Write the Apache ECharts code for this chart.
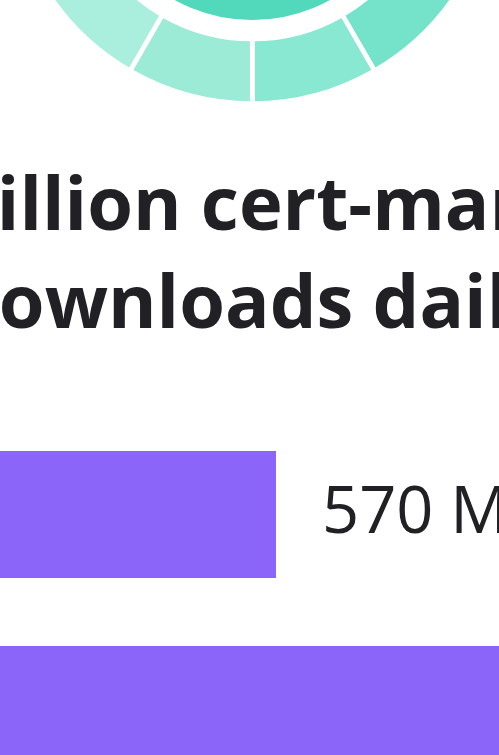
<!DOCTYPE html>
<html>
<head>
<meta charset="utf-8">
<script src="https://cdn.jsdelivr.net/npm/echarts@6/dist/echarts.min.js"></script>
<style>
html,body{margin:0;padding:0;background:#fff;}
#chart{width:499px;height:755px;}
</style>
</head>
<body>
<div id="chart"></div>
<script>
// Ring segments (12 equal parts, clockwise from top)
const ringSegments = ['s1','s2','s3','s4','s5','s6','s7','s8','s9','s10','s11','s12'];
const ringValues = [1,1,1,1,1,1,1,1,1,1,1,1];
const ringColors = ['#3fd3b1','#49d6b6','#5bdcbf','#66e0c4','#74e3c9','#88e8d2','#9beBd7','#aaeedd','#b8f1e3','#c4f4e8','#cff6ec','#d9f8f1'];
const coreValue = [1];

// Title lines
const titleLines = ['billion cert-manager', 'downloads daily'];

// Bars
const barCategories = ['Previous', 'Current'];
const barValues = [570, 1000];
const barUnit = 'Million';

const chart = echarts.init(document.getElementById('chart'), null, {renderer: 'canvas'});

const titleFont = {fontFamily: 'Open Sans', fontWeight: 700, fontSize: 74, fill: '#212024',
  textAlign: 'left', verticalAlign: 'bottom'};

const option = {
  animation: false,
  backgroundColor: '#ffffff',
  graphic: [
    {type: 'text', x: -50, y: 246, style: Object.assign({text: titleLines[0]}, titleFont)},
    {type: 'text', x: -48, y: 344, style: Object.assign({text: titleLines[1]}, titleFont)}
  ],
  grid: {left: -300, right: -211.5, top: 417, bottom: -52, containLabel: false, outerBoundsMode: 'none'},
  xAxis: {type: 'value', min: 0, max: 1000, show: false},
  yAxis: {type: 'category', data: barCategories, inverse: true, show: false},
  series: [
    {
      type: 'pie', silent: true,
      center: [252.3, -141], radius: [180, 244.5],
      startAngle: 90, clockwise: true,
      label: {show: false}, labelLine: {show: false},
      itemStyle: {borderColor: '#ffffff', borderWidth: 4.7},
      data: ringSegments.map((n, i) => ({name: n, value: ringValues[i], itemStyle: {color: ringColors[i]}}))
    },
    {
      type: 'pie', silent: true,
      center: [252.3, -141], radius: [0, 161],
      label: {show: false}, labelLine: {show: false},
      itemStyle: {color: '#52d9bb'},
      data: coreValue.map(v => ({name: 'core', value: v}))
    },
    {
      type: 'bar', silent: true,
      data: barValues,
      barWidth: 127,
      itemStyle: {color: '#8b65f9'},
      label: {
        show: true, position: 'right', distance: 46,
        formatter: p => p.value + ' ' + barUnit,
        fontFamily: 'Open Sans', fontSize: 65, color: '#212024'
      }
    }
  ]
};
chart.setOption(option);
</script>
</body>
</html>
